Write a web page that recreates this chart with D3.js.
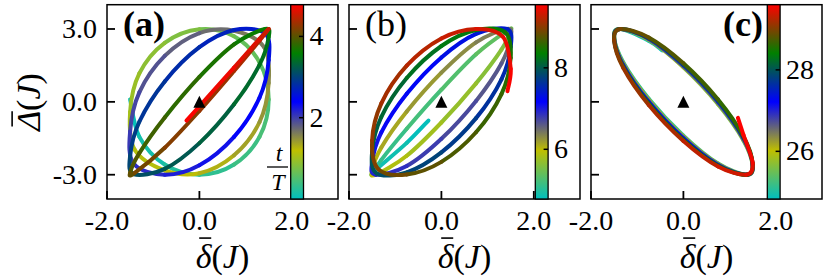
<!DOCTYPE html>
<html><head><meta charset="utf-8">
<script src="https://cdn.jsdelivr.net/npm/d3@7"></script>
<style>
html,body{margin:0;padding:0;background:#fff;}
svg{display:block;}
</style></head><body>
<svg id="chart" width="830" height="277"></svg>
<script>
// ---------- data ----------
const xTicks = [-2, 0, 2];
const xTickLabels = ["-2.0", "0.0", "2.0"];
const yTicks = [-3, 0, 3];
const yTickLabels = ["-3.0", "0.0", "3.0"];
const panelLetters = ["(a)", "(b)", "(c)"];
const cmapColors = ["#00bfbf", "#bfbf00", "#0000ff", "#008000", "#ff0000"];
const colorRanges = [[0, 4.78], [4.78, 9.55], [24.83, 29.6]];
const colorTicks = [[2, 4], [6, 8], [26, 28]];
const markerPos = [[0, 0]];

// trajectories: [t/T, delta, Delta]
const trajA = [
[0,-1.5,0.10],[0.083,-1.30,-1.44],[0.167,-0.75,-2.58],[0.25,0,-3.0],[0.333,0.75,-2.58],[0.417,1.30,-1.44],
[0.5,1.5,0.10],[0.583,1.30,1.63],[0.667,0.75,2.70],[0.75,0,2.99],[0.833,-0.75,2.43],[0.917,-1.30,1.17],
[1.0,-1.5,-0.42],[1.083,-1.40,-1.97],[1.167,-0.75,-2.82],[1.25,0,-2.94],[1.333,0.75,-2.20],[1.417,1.30,-0.84],
[1.5,1.5,0.78],[1.583,1.40,2.25],[1.667,0.75,2.93],[1.75,0,2.83],[1.833,-0.75,1.89],[1.917,-1.30,0.39],
[2.0,-1.5,-1.22],[2.083,-1.42,-2.55],[2.167,-0.75,-3.0],[2.25,0,-2.61],[2.333,0.75,-1.44],[2.417,1.30,0.17],
[2.5,1.5,1.72],[2.583,1.42,2.82],[2.667,0.75,2.96],[2.75,0,2.25],[2.833,-0.75,0.84],[2.917,-1.30,-0.82],
[3.0,-1.5,-2.23],[3.083,-1.42,-2.98],[3.167,-0.75,-2.76],[3.25,0,-1.70],[3.333,0.75,-0.10],[3.417,1.30,1.52],
[3.5,1.5,2.67],[3.583,1.42,3.0],[3.667,0.75,2.37],[3.75,0,1.03],[3.833,-0.75,-0.64],[3.917,-1.30,-2.11],
[4.0,-1.5,-2.92],[4.083,-1.40,-2.92],[4.167,-0.75,-1.89],[4.25,0,-0.37],[4.333,0.75,1.27],[4.417,1.30,2.52],
[4.5,1.5,3.0],[4.583,1.30,2.59],[4.667,0.75,1.41],[4.75,0,-0.18],[4.78,-0.28,-0.77]
];
const trajB = [
[4.78,-0.28,-0.77],[4.833,-0.75,-1.69],[4.917,-1.42,-2.80],
[5.0,-1.5,-2.98],[5.083,-1.30,-2.39],[5.167,-0.75,-1.11],[5.25,0,0.50],[5.333,0.75,1.96],[5.417,1.42,2.92],
[5.5,1.5,2.92],[5.583,1.30,2.15],[5.667,0.75,0.76],[5.75,0,-0.85],[5.833,-0.75,-2.22],[5.917,-1.42,-3.0],
[6.0,-1.5,-2.82],[6.083,-1.30,-1.88],[6.167,-0.75,-0.40],[6.25,0,1.20],[6.333,0.75,2.45],[6.417,1.42,3.0],
[6.5,1.5,2.67],[6.583,1.30,1.58],[6.667,0.75,0.04],[6.75,0,-1.52],[6.833,-0.75,-2.64],[6.917,-1.42,-3.0],
[7.0,-1.5,-2.49],[7.083,-1.30,-1.26],[7.167,-0.75,0.33],[7.25,0,1.83],[7.333,0.75,2.80],[7.417,1.42,3.0],
[7.5,1.5,2.26],[7.583,1.30,0.93],[7.667,0.75,-0.67],[7.75,0,-2.08],[7.833,-0.75,-2.90],[7.917,-1.40,-2.95],
[8.0,-1.5,-2.05],[8.083,-1.30,-0.62],[8.167,-0.75,0.98],[8.25,0,2.30],[8.333,0.75,2.96],[8.417,1.38,2.86],
[8.5,1.5,1.81],[8.583,1.30,0.32],[8.667,0.75,-1.25],[8.75,0,-2.47],[8.833,-0.75,-2.99],[8.917,-1.36,-2.78],
[9.0,-1.5,-1.59],[9.083,-1.30,-0.06],[9.167,-0.75,1.49],[9.25,0,2.61],[9.333,0.75,3.0],[9.417,1.33,2.68],
[9.5,1.5,1.36],[9.55,1.43,0.44]
];
const trajC = [
[24.8,-0.46,2.12],[24.833,-0.75,2.52],[24.917,-1.36,3.0],
[25.0,-1.5,2.67],[25.083,-1.30,1.62],[25.167,-0.75,0.13],[25.25,0,-1.39],[25.333,0.75,-2.54],[25.417,1.36,-3.0],
[25.5,1.5,-2.65],[25.583,1.30,-1.59],[25.667,0.75,-0.10],[25.75,0,1.42],[25.833,-0.75,2.55],[25.917,-1.36,3.0],
[26.0,-1.5,2.64],[26.083,-1.30,1.56],[26.167,-0.75,0.07],[26.25,0,-1.45],[26.333,0.75,-2.57],[26.417,1.36,-3.0],
[26.5,1.5,-2.62],[26.583,1.30,-1.54],[26.667,0.75,-0.04],[26.75,0,1.47],[26.833,-0.75,2.59],[26.917,-1.36,3.0],
[27.0,-1.5,2.60],[27.083,-1.30,1.51],[27.167,-0.75,0.0],[27.25,0,-1.50],[27.333,0.75,-2.60],[27.417,1.36,-3.0],
[27.5,1.5,-2.59],[27.583,1.30,-1.48],[27.667,0.75,0.03],[27.75,0,1.53],[27.833,-0.75,2.62],[27.917,-1.36,3.0],
[28.0,-1.5,2.57],[28.083,-1.30,1.45],[28.167,-0.75,-0.06],[28.25,0,-1.56],[28.333,0.75,-2.63],[28.417,1.36,-3.0],
[28.5,1.5,-2.55],[28.583,1.30,-1.42],[28.667,0.75,0.10],[28.75,0,1.59],[28.833,-0.75,2.65],[28.917,-1.36,3.0],
[29.0,-1.5,2.54],[29.083,-1.30,1.39],[29.167,-0.75,-0.13],[29.25,0,-1.61],[29.333,0.75,-2.66],[29.417,1.36,-3.0],
[29.5,1.5,-2.52],[29.583,1.30,-1.36],[29.6,1.18,-0.66]
];
const trajectories = [trajA, trajB, trajC];

// ---------- layout ----------
const FONT = "'Liberation Serif', 'DejaVu Serif', serif";
const svg = d3.select("#chart");
const panelLeft = [107, 349, 591];
const panelW = 231, plotTop = 4.7, plotBottom = 199;
const cbLeft = [290.7, 535.3, 767.3], cbW = 12.8;
const tickFont = 28, labelFont = 34;
const cmapStops = [0, 0.25, 0.5, 0.75, 1];
const cmap = d3.scaleLinear().domain(cmapStops).range(cmapColors);

function txt(parent) { return parent.append("text").style("font-family", FONT).attr("fill", "#000"); }

const defs = svg.append("defs");
const grad = defs.append("linearGradient").attr("id", "cmapGrad")
  .attr("x1", 0).attr("y1", 1).attr("x2", 0).attr("y2", 0);
cmapColors.forEach((c, i) => grad.append("stop").attr("offset", cmapStops[i]).attr("stop-color", c));

function mathLabel(parent, tx, ty, sym, rotate, barLift) {
  const grp = parent.append("g").attr("transform", `translate(${tx},${ty})` + (rotate ? " rotate(-90)" : ""));
  const t = txt(grp).attr("text-anchor", "middle").style("font-size", labelFont + "px");
  t.append("tspan").style("font-style", "italic").text(sym);
  t.append("tspan").text("(");
  t.append("tspan").style("font-style", "italic").text("J");
  t.append("tspan").text(")");
  const e = t.node().getExtentOfChar(0);
  grp.append("line")
    .attr("x1", e.x + e.width * 0.22).attr("x2", e.x + e.width * 0.98)
    .attr("y1", -labelFont * barLift).attr("y2", -labelFont * barLift)
    .attr("stroke", "#000").attr("stroke-width", 1.6);
}

trajectories.forEach((traj, p) => {
  const L = panelLeft[p];
  const x = d3.scaleLinear().domain([-2, 3]).range([L, L + panelW]);
  const y = d3.scaleLinear().domain([-4, 4]).range([plotBottom, plotTop]);
  const cnorm = d3.scaleLinear().domain(colorRanges[p]).range([0, 1]).clamp(true);
  const g = svg.append("g");

  defs.append("clipPath").attr("id", "clip" + p).append("rect")
    .attr("x", L).attr("y", plotTop).attr("width", panelW).attr("height", plotBottom - plotTop);

  // trajectory, drawn segment by segment (Catmull-Rom smoothing), colored by t/T
  const lines = g.append("g").attr("clip-path", `url(#clip${p})`);
  const pts = traj.map(d => [x(d[1]), y(d[2]), d[0]]);
  for (let i = 0; i < pts.length - 1; i++) {
    const p0 = pts[Math.max(0, i - 1)], p1 = pts[i], p2 = pts[i + 1], p3 = pts[Math.min(pts.length - 1, i + 2)];
    const c1 = [p1[0] + (p2[0] - p0[0]) / 6, p1[1] + (p2[1] - p0[1]) / 6];
    const c2 = [p2[0] - (p3[0] - p1[0]) / 6, p2[1] - (p3[1] - p1[1]) / 6];
    const path = d3.path();
    path.moveTo(p1[0], p1[1]);
    path.bezierCurveTo(c1[0], c1[1], c2[0], c2[1], p2[0], p2[1]);
    lines.append("path").attr("d", path.toString()).attr("fill", "none")
      .attr("stroke", cmap(cnorm((p1[2] + p2[2]) / 2)))
      .attr("stroke-width", 4).attr("stroke-linecap", "round");
  }

  // triangle marker
  markerPos.forEach(m => {
    const cx = x(m[0]), cy = y(m[1]), s = 6;
    const tri = d3.path();
    tri.moveTo(cx, cy - s); tri.lineTo(cx + s, cy + s); tri.lineTo(cx - s, cy + s); tri.closePath();
    g.append("path").attr("d", tri.toString()).attr("fill", "#000");
  });

  // ticks (inward)
  yTicks.forEach(v => g.append("line").attr("x1", L).attr("x2", L + 8).attr("y1", y(v)).attr("y2", y(v))
    .attr("stroke", "#000").attr("stroke-width", 1.8));
  xTicks.forEach(v => g.append("line").attr("x1", x(v)).attr("x2", x(v)).attr("y1", plotBottom).attr("y2", plotBottom - 8)
    .attr("stroke", "#000").attr("stroke-width", 1.8));

  // frame
  g.append("rect").attr("x", L).attr("y", plotTop).attr("width", panelW).attr("height", plotBottom - plotTop)
    .attr("fill", "none").attr("stroke", "#000").attr("stroke-width", 1.5);

  // x tick labels
  xTicks.forEach((v, i) => txt(g).attr("x", x(v)).attr("y", 230).attr("text-anchor", "middle")
    .style("font-size", tickFont + "px").text(xTickLabels[i]));
  if (p === 0) {
    yTicks.forEach((v, i) => txt(g).attr("x", 97).attr("y", y(v) + 9).attr("text-anchor", "end")
      .style("font-size", tickFont + "px").text(yTickLabels[i]));
  }

  // colorbar
  const cbx = cbLeft[p];
  const cy = d3.scaleLinear().domain(colorRanges[p]).range([plotBottom, plotTop]);
  g.append("rect").attr("x", cbx).attr("y", plotTop).attr("width", cbW).attr("height", plotBottom - plotTop)
    .attr("fill", "url(#cmapGrad)").attr("stroke", "#000").attr("stroke-width", 1.3);
  colorTicks[p].forEach(v => {
    g.append("line").attr("x1", cbx + cbW - 4.5).attr("x2", cbx + cbW).attr("y1", cy(v)).attr("y2", cy(v))
      .attr("stroke", "#000").attr("stroke-width", 1.5);
    txt(g).attr("x", cbx + cbW + 6).attr("y", cy(v) + 9).style("font-size", tickFont + "px").text(String(v));
  });

  // panel letter
  const letter = txt(g).style("font-size", "36px").attr("y", 36).text(panelLetters[p]);
  if (p === 2) letter.attr("x", 763).attr("text-anchor", "end").style("font-weight", "bold");
  else letter.attr("x", L + 16).style("font-weight", p === 0 ? "bold" : "normal");

  // x axis label
  mathLabel(g, L + panelW / 2, 268, "δ", false, 0.88);
});

// y axis label
mathLabel(svg, 40, 102, "Δ", true, 0.82);

// t/T label inside panel (a)
const frac = svg.append("g");
txt(frac).attr("x", 279).attr("y", 161).attr("text-anchor", "middle").style("font-size", "24px")
  .style("font-style", "italic").text("t");
frac.append("line").attr("x1", 267).attr("x2", 288).attr("y1", 167).attr("y2", 167).attr("stroke", "#000").attr("stroke-width", 1.3);
txt(frac).attr("x", 278).attr("y", 189.5).attr("text-anchor", "middle").style("font-size", "24px")
  .style("font-style", "italic").text("T");
</script>
</body></html>
